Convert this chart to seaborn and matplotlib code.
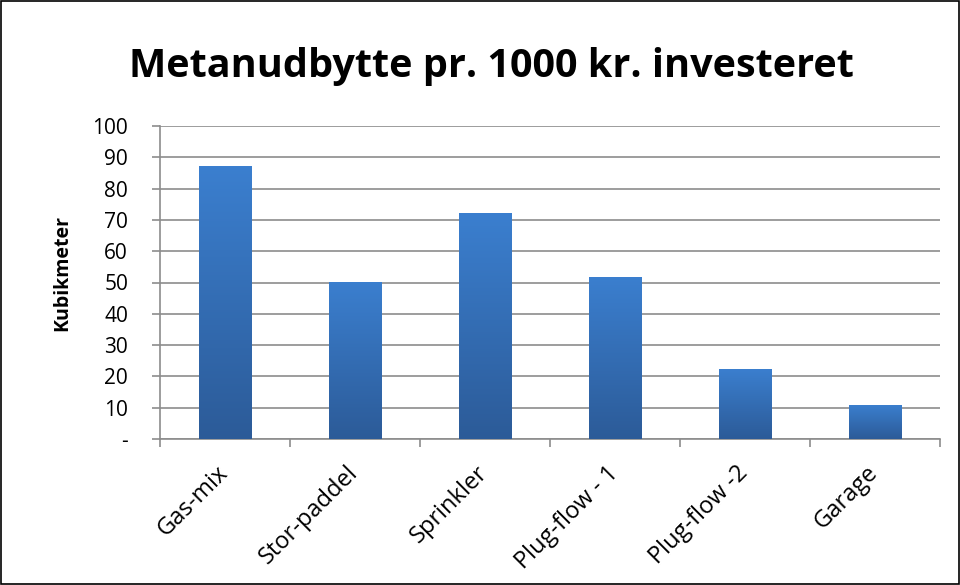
"""Metanudbytte pr. 1000 kr. investeret - bar chart."""
import matplotlib

matplotlib.use("Agg")
import matplotlib.pyplot as plt
import matplotlib.transforms as mtransforms
import numpy as np
import pandas as pd
import seaborn as sns
from matplotlib.colors import LinearSegmentedColormap
from matplotlib.patches import Rectangle

categories = ["Gas-mix", "Stor-paddel", "Sprinkler", "Plug-flow - 1", "Plug-flow -2", "Garage"]
values = [87.2, 50.3, 72.1, 51.9, 22.4, 10.9]
y_ticks = [0, 10, 20, 30, 40, 50, 60, 70, 80, 90, 100]
y_labels = ["-"] + [str(v) for v in y_ticks[1:]]

df = pd.DataFrame({"kategori": categories, "kubikmeter": values})

sns.set_theme(style="white")
plt.rcParams["font.family"] = ["Open Sans", "DejaVu Sans"]

fig = plt.figure(figsize=(9.6, 5.85), dpi=100)
ax = fig.add_axes([160 / 960, 1 - 439 / 585, 780 / 960, 313 / 585])

sns.barplot(data=df, x="kategori", y="kubikmeter", ax=ax, width=0.405,
            color="#3a7dcc", saturation=1, edgecolor="none")

# gradient fill on each bar, clipped to the bar patch
grad = LinearSegmentedColormap.from_list("bar", ["#2c5b98", "#3b7fcf"])
for bar in ax.patches:
    x0, y0 = bar.get_x(), bar.get_y()
    w, h = bar.get_width(), bar.get_height()
    img = ax.imshow(np.linspace(0, 1, 256).reshape(-1, 1), cmap=grad, origin="lower",
                    extent=[x0, x0 + w, y0, y0 + h], aspect="auto", zorder=3)
    img.set_clip_path(bar)

ax.set_xlim(-0.5, len(categories) - 0.5)
ax.set_ylim(0, 100)
ax.set_yticks(y_ticks)
ax.set_yticklabels(y_labels, fontsize=15, color="black")
ax.yaxis.grid(True, color="#8c8c8c", linewidth=1.2)
ax.set_axisbelow(True)

ax.set_xticks(np.arange(len(categories)))
ax.set_xticklabels(categories, rotation=45, ha="right", rotation_mode="anchor",
                   fontsize=17, color="black")
ax.tick_params(axis="x", length=0, pad=16)
shift = mtransforms.ScaledTranslation(-9 / 100, 0, fig.dpi_scale_trans)
for lbl in ax.get_xticklabels():
    lbl.set_transform(lbl.get_transform() + shift)
ax.set_xticks(np.arange(-0.5, len(categories)), minor=True)
ax.tick_params(axis="x", which="minor", length=6, width=1.2, color="#8c8c8c", bottom=True)
ax.tick_params(axis="y", length=6, width=1.2, color="#8c8c8c", left=True, pad=17)

for side in ["top", "right"]:
    ax.spines[side].set_visible(False)
for side in ["left", "bottom"]:
    ax.spines[side].set_color("#8c8c8c")
    ax.spines[side].set_linewidth(1.2)

ax.set_xlabel("")
ax.set_ylabel("Kubikmeter", fontsize=14, fontweight="bold", color="black")
ax.yaxis.set_label_coords(-0.112, 0.53)
fig.text(491 / 960, 1 - 66 / 585, "Metanudbytte pr. 1000 kr. investeret",
         ha="center", va="center", fontsize=28.5, fontweight="bold", color="black")

fig.patches.append(Rectangle((0.001, 0.001), 0.998, 0.997, transform=fig.transFigure,
                             fill=False, edgecolor="#000000", linewidth=1.2))

fig.savefig("out.png", dpi=100)
